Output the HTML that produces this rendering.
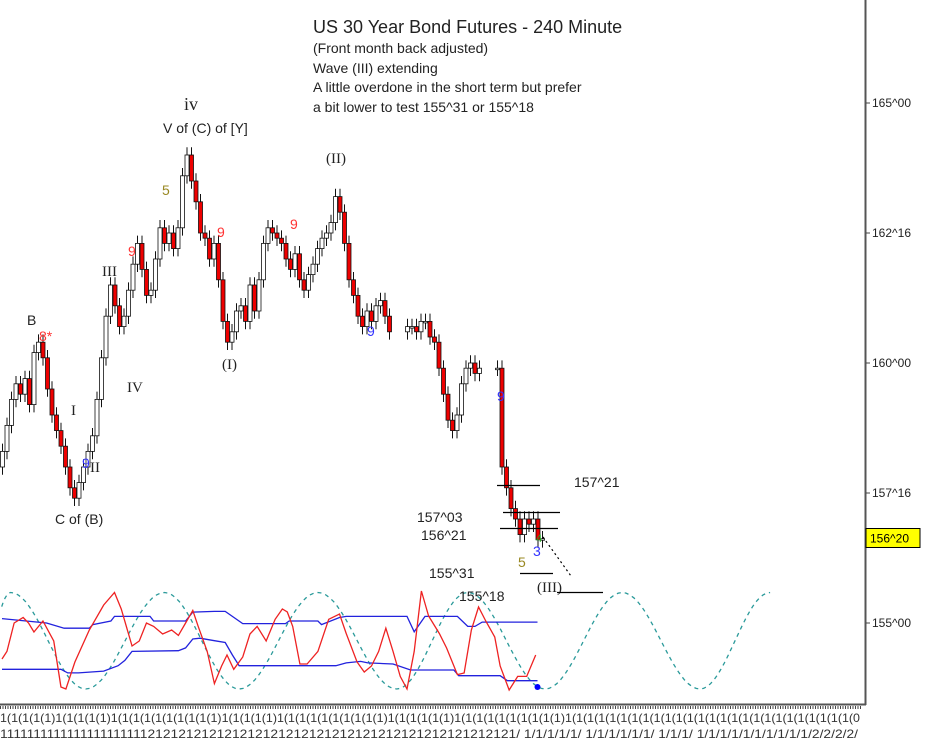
<!DOCTYPE html>
<html><head><meta charset="utf-8"><style>
body{margin:0;background:#fff;width:930px;height:750px;overflow:hidden}
svg text{font-family:"Liberation Sans",sans-serif}
.serif{font-family:"Liberation Serif",serif}
</style></head><body>
<svg id="c" width="930" height="750">
<g id="grid"></g>
<g id="candles"></g>
<g id="osc"></g>
<g font-size="14" fill="#222">
<text x="313" y="33" font-size="18">US 30 Year Bond Futures - 240 Minute</text>
<text x="313" y="53">(Front month back adjusted)</text>
<text x="313" y="73">Wave (III) extending</text>
<text x="313" y="92">A little overdone in the short term but prefer</text>
<text x="313" y="112">a bit lower to test 155^31 or 155^18</text>
<text x="184" y="110" font-size="18" class="serif">iv</text>
<text x="163" y="133">V of (C) of [Y]</text>
<text x="326" y="163" font-size="15" class="serif">(II)</text>
<text x="222" y="369" font-size="15" class="serif">(I)</text>
<text x="102" y="276" font-size="15" class="serif">III</text>
<text x="127" y="392" font-size="15" class="serif">IV</text>
<text x="71" y="415" font-size="15" class="serif">I</text>
<text x="90" y="472" font-size="15" class="serif">II</text>
<text x="27" y="325">B</text>
<text x="39" y="341" fill="#f33">8*</text>
<text x="55" y="524">C of (B)</text>
<text x="162" y="195" fill="#998822">5</text>
<text x="128" y="256" fill="#f33">9</text>
<text x="217" y="237" fill="#f33">9</text>
<text x="290" y="229" fill="#f33">9</text>
<text x="367" y="336" fill="#33f">9</text>
<text x="82" y="468" fill="#33f">9</text>
<text x="497" y="401" fill="#33f">9</text>
<text x="574" y="487">157^21</text>
<text x="417" y="522">157^03</text>
<text x="421" y="540">156^21</text>
<text x="429" y="578">155^31</text>
<text x="459" y="601">155^18</text>
<text x="537" y="592" font-size="15" class="serif">(III)</text>
<text x="518" y="567" fill="#998822">5</text>
<text x="533" y="556" fill="#33f">3</text>
<text x="536" y="542" fill="#2a2" font-size="11">4</text>
<g stroke="#000" stroke-width="1.2">
<line x1="497" y1="485.5" x2="540" y2="485.5"/>
<line x1="503" y1="512.5" x2="560" y2="512.5"/>
<line x1="500" y1="528.5" x2="558" y2="528.5"/>
<line x1="520" y1="573.5" x2="553" y2="573.5"/>
<line x1="557" y1="592.5" x2="603" y2="592.5"/>
<line x1="543" y1="537" x2="571" y2="576" stroke-dasharray="2,3"/>
</g>
</g>
<g id="axes"></g>
</svg>
<script>
const closes=[158.3,158.8,159.3,159.6,159.4,159.7,159.2,160.2,160.4,160.1,159.5,159.0,158.7,158.4,158.0,157.6,157.4,157.7,158.0,158.3,158.6,159.3,160.1,160.9,161.5,161.1,160.7,160.9,161.4,161.9,162.3,161.8,161.3,161.4,162.0,162.6,162.3,162.5,162.2,162.6,163.6,164.0,163.5,163.1,162.5,162.4,162.0,162.3,161.6,160.8,160.4,160.6,161.0,161.1,160.8,161.5,161.0,161.6,162.3,162.6,162.5,162.4,162.3,162.0,161.8,162.1,161.6,161.4,161.7,161.9,162.2,162.4,162.5,162.7,163.2,162.9,162.3,161.6,161.3,160.9,160.7,161.0,160.8,161.1,161.2,160.9,160.6,null,null,null,160.7,160.7,160.6,160.8,160.8,160.5,160.4,159.9,159.4,158.9,158.7,159.0,159.6,159.9,160.0,159.8,159.9,null,null,null,159.9,158.0,157.6,157.2,157.0,156.7,157.0,156.9,157.0,156.6,156.62];
const priceTicks=[165,162.5,160,157.5,155];
const priceTickLabels=["165^00","162^16","160^00","157^16","155^00"];
const lastPrice=156.625, lastPriceLabel="156^20";
const oscIdx=[0,1.1,2.7,4.7,5.9,7.1,9.1,11.5,13.1,14.2,16.2,19.4,22.6,25,26.5,28.9,30.5,32.1,33.7,35.7,37.7,39.2,40.8,42.4,43.6,45.6,47.2,48.8,50,51.5,53.5,55.1,56.7,58.7,60.7,62.3,63.4,64.6,66.2,67.8,70.2,72.6,75,76.5,78.9,80.5,82.1,83.7,85.3,86.9,88.5,90,91.6,93.2,94.8,97.2,98.8,101.2,102.7,104.3,105.9,107.5,109.5,110.7,112.7,114.6,116.6,118.6];
const oscVal=[31,38.6,67,72.5,67,58,69,49,3,1,28,60,85,97.5,81,44,49,67,63.6,56,60,54.6,67,79.6,63.6,38.6,6.4,24,35,20.7,33,56,63.6,49,70.7,81,78,63.6,26,26,38.6,70.7,76,56.4,28,18,24,38.6,61.8,38.6,13.6,1,38.6,99,74,56.4,42,15.4,17,60,83,69,53,24,0,13.6,13.6,35];
const upIdx=[0,9.9,13.8,19.4,20.2,24.2,25,32.9,33.7,40.8,42.4,47.2,49.6,53.5,63,63.8,70.2,71,75,76.5,90,91.6,94,101.2,103.5,105.1,106.7,119];
const upVal=[71.4,67,61.8,61.8,65.4,69,73.6,73.6,69,69,77.9,78.6,78.6,66.4,66.4,69,69,65.4,72.5,73.6,73.6,58.2,73.6,73.6,63.6,63.6,67.9,67.9];
const loIdx=[0,13.1,14.6,17,22.6,25.8,27.3,28.9,39.2,40.8,42.4,44,47.2,49.6,51.2,52.7,74.2,76.5,79.7,81.3,86.9,90.8,100.4,101.5,110.7,112.3,119];
const loVal=[20.7,20.7,17.1,17.1,18.9,24.3,29.6,38.6,39.3,42.1,51,51.8,49.3,47.5,35,24.3,24.3,27.1,28.6,27.1,26,20,20,14.3,14.3,9.3,9.3];
const cycleIdx=[-6,1.9,18.6,36.1,52.7,70.2,87.7,103.5,120.7,137.8,155.1,170.7];
const cycleVal=[1,97.5,1,97.5,1,97.5,1,97.5,1,97.5,1,97.5];

const NS="http://www.w3.org/2000/svg";
const X=i=>2+i*4.5;
const Y=p=>103+(165-p)*52;
const OY=v=>690-v;
function mk(tag,parent,attrs){const e=document.createElementNS(NS,tag);for(const k in attrs)e.setAttribute(k,attrs[k]);parent.appendChild(e);return e;}
const cg=document.getElementById('candles');
let prev=closes[0]-0.3;
closes.forEach((c,i)=>{
  if(c===null)return;
  const o=prev; prev=c;
  const hi=Math.max(o,c)+0.15, lo=Math.min(o,c)-0.15;
  const w=mk('line',cg,{x1:X(i)+0.5,x2:X(i)+0.5,y1:Y(hi),y2:Y(lo),stroke:'#111','stroke-width':1});
  
  
  const top=Y(Math.max(o,c)), h=Math.max(1.5,Math.abs(Y(o)-Y(c)));
  const r=mk('rect',cg,{x:X(i)-1.5,y:top,width:4,height:h,fill:c<o?'#e00':'#fff',stroke:'#111','stroke-width':0.8});
  
  
});
const og=document.getElementById('osc');
function poly(ix,vals,color,name){
  const pts=ix.map((i,k)=>X(i)+','+OY(vals[k])).join(' ');
  const p=mk('polyline',og,{points:pts,fill:'none',stroke:color,'stroke-width':1.3});
  
  
}
// cycle curve (cosine interpolation between extremes)
let d='';
for(let k=0;k<cycleIdx.length-1;k++){
  const i0=cycleIdx[k],i1=cycleIdx[k+1],v0=cycleVal[k],v1=cycleVal[k+1];
  for(let s=0;s<=20;s++){const t=s/20;const f=(1-Math.cos(Math.PI*t))/2;const x=X(i0+(i1-i0)*t);if(x<0||x>785)continue;d+=(d?'L':'M')+x.toFixed(1)+','+OY(v0+(v1-v0)*f).toFixed(1);}
}
const cyc=mk('path',og,{d:d,fill:'none',stroke:'#2a9a9a','stroke-width':1.3,'stroke-dasharray':'4,4'});


poly(upIdx,upVal,'#22d','upper-band');
poly(loIdx,loVal,'#22d','lower-band');
poly(oscIdx,oscVal,'#e22','oscillator-line');
const dot=mk('circle',og,{cx:X(119),cy:OY(3),r:3,fill:'#00f'});



const ax=document.getElementById('axes');
const b1=mk('line',ax,{x1:865.5,y1:0,x2:865.5,y2:705,stroke:'#555','stroke-width':2});


const b2=mk('line',ax,{x1:0,y1:704.5,x2:866,y2:704.5,stroke:'#555','stroke-width':2});


const tk=mk('line',ax,{x1:0,y1:707.5,x2:862,y2:707.5,stroke:'#444','stroke-width':3,'stroke-dasharray':'1,1.5'});


priceTicks.forEach((p,k)=>{
  const l=mk('line',ax,{x1:866,x2:870,y1:Y(p),y2:Y(p),stroke:'#444'});
  
  
  const t=mk('text',ax,{x:872,y:Y(p)+4,'font-size':12,fill:'#222'});
  t.textContent=priceTickLabels[k];
  
  
});
const yl=mk('rect',ax,{x:866,y:Y(lastPrice)-10,width:54,height:19,fill:'#ff0',stroke:'#000'});


const ylt=mk('text',ax,{x:870,y:Y(lastPrice)+4,'font-size':12,fill:'#000'});
ylt.textContent=lastPriceLabel;


const r1=mk('text',ax,{x:0,y:722,'font-size':12,fill:'#333',textLength:860,lengthAdjust:'spacingAndGlyphs'});
r1.textContent='1(1(1(1(1)1(1(1(1(1)1(1(1(1(1(1(1(1(1(1)1(1(1(1(1)1(1(1(1(1(1(1(1(1(1)1(1(1(1(1(1)1(1(1(1(1(1(1(1(1(1)1(1(1(1(1(1(1(1(1(1(1(1(1(1(1(1(1(1(1(1(1(1(1(1(1(1(0';


const r2=mk('text',ax,{x:0,y:738,'font-size':12,fill:'#333',textLength:858,lengthAdjust:'spacingAndGlyphs'});
r2.textContent='1111111111111111111111212121212121212121212121212121212121212121212121/ 1/1/1/1/1/ 1/1/1/1/1/1/ 1/1/1/ 1/1/1/1/1/1/1/1/1/1/2/2/2/2/';


</script>
</body></html>
